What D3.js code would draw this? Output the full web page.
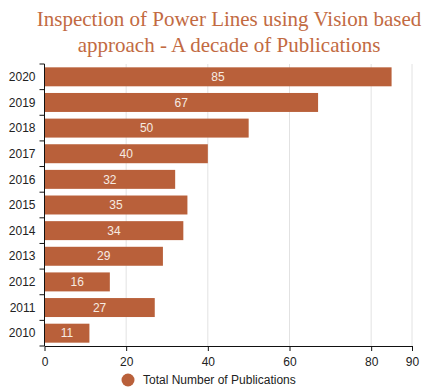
<!DOCTYPE html>
<html>
<head>
<meta charset="utf-8">
<script src="https://cdn.jsdelivr.net/npm/d3@7"></script>
<style>
  html, body { margin: 0; padding: 0; background: #fff; }
  svg { display: block; }
</style>
</head>
<body>
<svg id="chart" width="435" height="387"></svg>
<script>
// Publications per year
const years = ["2020", "2019", "2018", "2017", "2016", "2015", "2014", "2013", "2012", "2011", "2010"];
const publications = [85, 67, 50, 40, 32, 35, 34, 29, 16, 27, 11];
const xTicks = [0, 20, 40, 60, 80, 90];
const titleLines = ["Inspection of Power Lines using Vision based", "approach - A decade of Publications"];
const seriesName = "Total Number of Publications";

const barColor = "#b9603a";
const svg = d3.select("#chart");

const margin = { top: 64, left: 44.5, right: 23, bottom: 41 };
const width = 435, height = 387;

const x = d3.scaleLinear().domain([0, 90]).range([margin.left, width - margin.right]);
const y = d3.scaleBand().domain(years).range([margin.top, height - margin.bottom]).paddingInner(0.26).paddingOuter(0.13);

// Title
svg.append("g").selectAll("text").data(titleLines).join("text")
  .attr("x", 229).attr("y", (d, i) => 26 + i * 26)
  .attr("text-anchor", "middle")
  .attr("font-family", "'Liberation Serif', 'Times New Roman', serif")
  .attr("font-size", 21)
  .attr("fill", "#c26a42")
  .text(d => d);

// Vertical gridlines
svg.append("g").selectAll("line").data(xTicks.filter(d => d > 0)).join("line")
  .attr("x1", d => x(d)).attr("x2", d => x(d))
  .attr("y1", margin.top).attr("y2", height - margin.bottom)
  .attr("stroke", "#e2e2e2").attr("stroke-width", 1);

// Bars
const rows = years.map((yr, i) => ({ year: yr, value: publications[i] }));
svg.append("g").selectAll("rect").data(rows).join("rect")
  .attr("x", x(0))
  .attr("y", d => y(d.year))
  .attr("width", d => x(d.value) - x(0))
  .attr("height", y.bandwidth())
  .attr("fill", barColor);

// Value labels
svg.append("g").selectAll("text").data(rows).join("text")
  .attr("x", d => (x(0) + x(d.value)) / 2)
  .attr("y", d => y(d.year) + y.bandwidth() / 2)
  .attr("dy", "0.35em")
  .attr("text-anchor", "middle")
  .attr("font-family", "Arial, 'Liberation Sans', sans-serif")
  .attr("font-size", 12)
  .attr("fill", "#f6ebe2")
  .text(d => d.value);

// X axis
const xAxis = svg.append("g")
  .attr("transform", `translate(0,${height - margin.bottom})`)
  .call(d3.axisBottom(x).tickValues(xTicks).tickSize(5).tickSizeOuter(0));
xAxis.select(".domain").attr("stroke", "#111");
xAxis.selectAll(".tick line").attr("stroke", "#111");
xAxis.selectAll("text")
  .attr("font-family", "Arial, 'Liberation Sans', sans-serif")
  .attr("font-size", 12).attr("fill", "#222").attr("dy", "1em");

// Y axis with ticks at band boundaries
const yAxis = svg.append("g").attr("transform", `translate(${margin.left},0)`);
yAxis.append("line")
  .attr("x1", 0).attr("x2", 0)
  .attr("y1", margin.top).attr("y2", height - margin.bottom)
  .attr("stroke", "#111");
const step = y.step();
const bounds = d3.range(years.length + 1).map(i => margin.top + i * (height - margin.top - margin.bottom) / years.length);
yAxis.selectAll("line.tick").data(bounds).join("line")
  .attr("class", "tick")
  .attr("x1", -5).attr("x2", 0)
  .attr("y1", d => d).attr("y2", d => d)
  .attr("stroke", "#111");
yAxis.selectAll("text").data(years).join("text")
  .attr("x", -9)
  .attr("y", d => y(d) + y.bandwidth() / 2)
  .attr("dy", "0.35em")
  .attr("text-anchor", "end")
  .attr("font-family", "Arial, 'Liberation Sans', sans-serif")
  .attr("font-size", 12).attr("fill", "#222")
  .text(d => d);

// Legend
const legend = svg.append("g");
legend.append("circle").attr("cx", 128).attr("cy", 380).attr("r", 6.5).attr("fill", barColor);
legend.append("text").attr("x", 143).attr("y", 380).attr("dy", "0.35em")
  .attr("font-family", "Arial, 'Liberation Sans', sans-serif")
  .attr("font-size", 12).attr("fill", "#222")
  .text(seriesName);
</script>
</body>
</html>
